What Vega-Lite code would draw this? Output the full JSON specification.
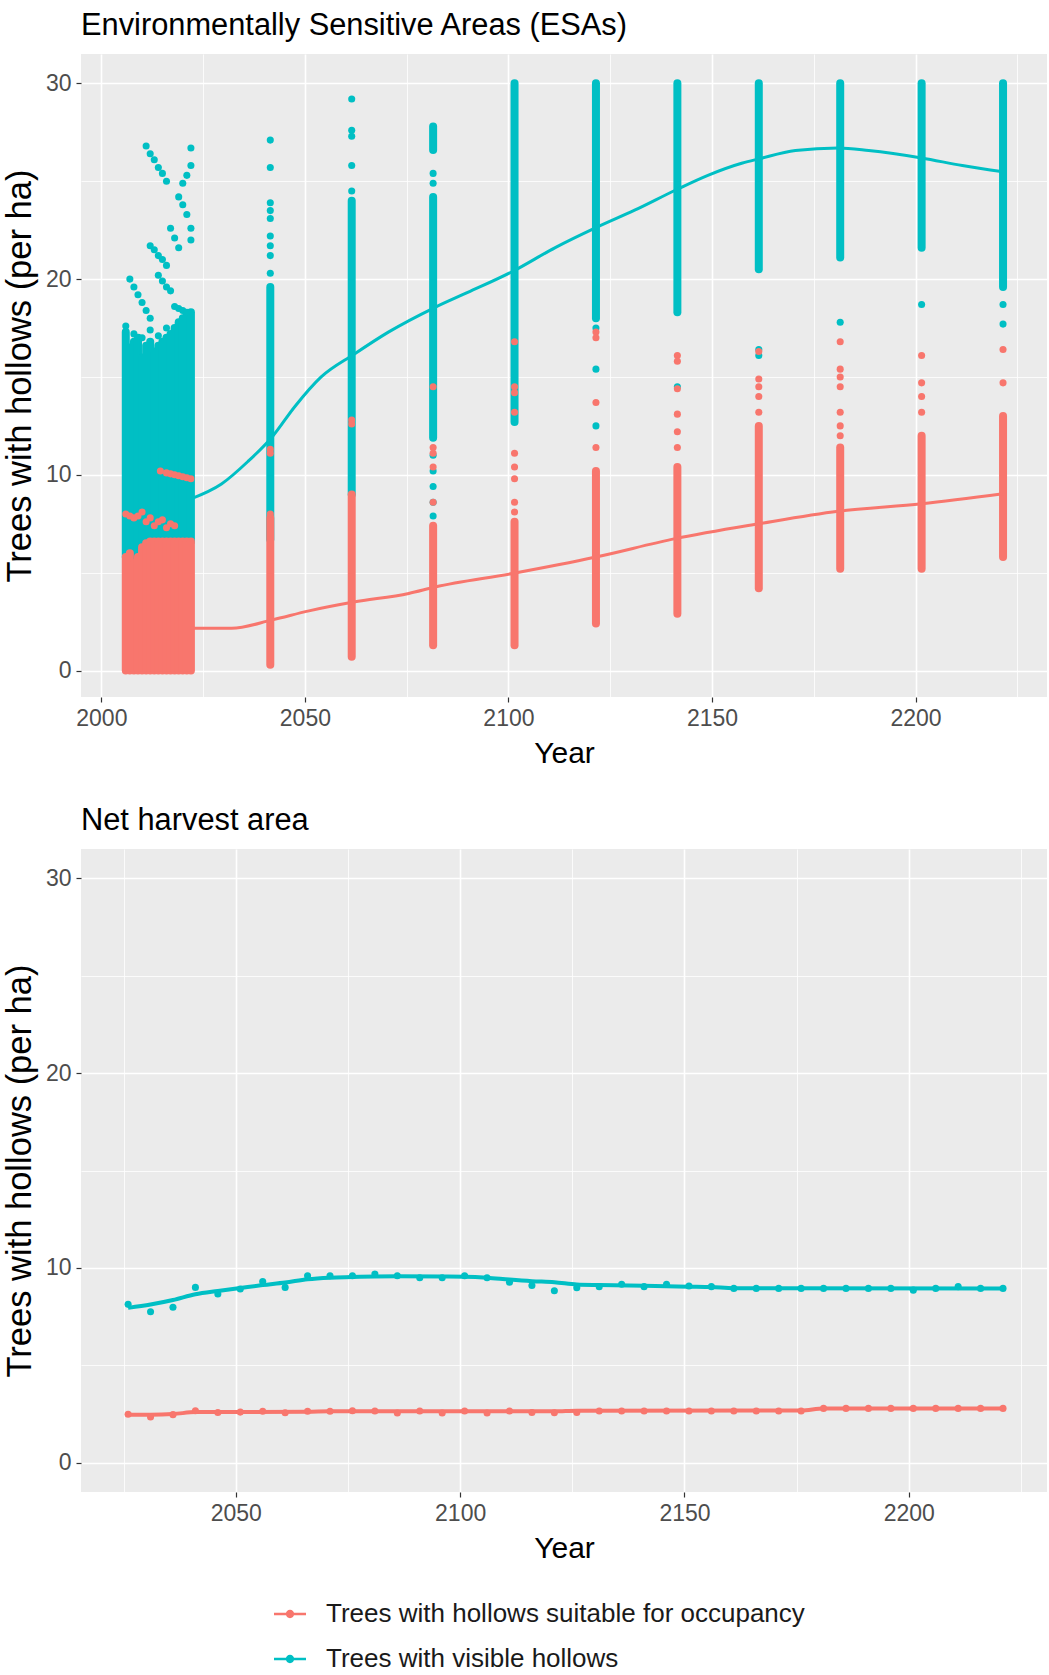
{
  "$schema": "https://vega.github.io/schema/vega-lite/v6.json",
  "padding": {"left": 2, "top": 10, "right": 0, "bottom": 0},
  "background": "white",
  "config": {
    "view": {"fill": "#EBEBEB", "stroke": null},
    "font": "Liberation Sans",
    "axis": {"domain": false, "grid": true, "gridColor": "#FFFFFF", "labelFont": "Liberation Sans", "labelFontSize": 23, "labelColor": "#4D4D4D", "tickColor": "#333333", "tickSize": 5, "tickWidth": 1.2, "titleFont": "Liberation Sans", "titleFontWeight": "normal", "titleColor": "#000000", "labelPadding": 5, "labelOverlap": false, "labelFlush": false, "labelBound": false},
    "axisX": {"titleFontSize": 30, "titlePadding": 8},
    "axisY": {"titleFontSize": 34.5, "titlePadding": 8},
    "title": {"font": "Liberation Sans", "fontSize": 30.8, "fontWeight": "normal", "color": "#000000", "anchor": "start", "frame": "group", "offset": 12}
  },
  "datasets": {
    "segs": [
      {"s":"vis","year":2006,"value":5.8,"hi":17.3},
      {"s":"vis","year":2007,"value":6.0,"hi":16.5},
      {"s":"vis","year":2008,"value":5.5,"hi":16.8},
      {"s":"vis","year":2009,"value":5.8,"hi":17.0},
      {"s":"vis","year":2010,"value":6.3,"hi":16.0},
      {"s":"vis","year":2011,"value":6.5,"hi":16.6},
      {"s":"vis","year":2012,"value":6.6,"hi":16.8},
      {"s":"vis","year":2013,"value":6.6,"hi":16.3},
      {"s":"vis","year":2014,"value":6.6,"hi":16.6},
      {"s":"vis","year":2015,"value":6.6,"hi":16.8},
      {"s":"vis","year":2016,"value":6.6,"hi":17.0},
      {"s":"vis","year":2017,"value":6.6,"hi":17.2},
      {"s":"vis","year":2018,"value":6.6,"hi":17.5},
      {"s":"vis","year":2019,"value":6.6,"hi":17.8},
      {"s":"vis","year":2020,"value":6.6,"hi":18.0},
      {"s":"vis","year":2021,"value":6.6,"hi":18.2},
      {"s":"vis","year":2022,"value":6.6,"hi":18.3},
      {"s":"vis","year":2041.5,"value":6.7,"hi":19.6},
      {"s":"vis","year":2061.5,"value":9.0,"hi":24.0},
      {"s":"vis","year":2081.5,"value":11.9,"hi":24.2},
      {"s":"vis","year":2081.5,"value":26.6,"hi":27.8},
      {"s":"vis","year":2101.5,"value":12.7,"hi":30},
      {"s":"vis","year":2121.5,"value":18.0,"hi":30},
      {"s":"vis","year":2141.5,"value":18.3,"hi":30},
      {"s":"vis","year":2161.5,"value":20.5,"hi":30},
      {"s":"vis","year":2181.5,"value":21.1,"hi":30},
      {"s":"vis","year":2201.5,"value":21.6,"hi":30},
      {"s":"vis","year":2221.5,"value":19.6,"hi":30},
      {"s":"occ","year":2006,"value":0,"hi":5.8},
      {"s":"occ","year":2007,"value":0,"hi":6.0},
      {"s":"occ","year":2008,"value":0,"hi":5.5},
      {"s":"occ","year":2009,"value":0,"hi":5.8},
      {"s":"occ","year":2010,"value":0,"hi":6.3},
      {"s":"occ","year":2011,"value":0,"hi":6.5},
      {"s":"occ","year":2012,"value":0,"hi":6.6},
      {"s":"occ","year":2013,"value":0,"hi":6.6},
      {"s":"occ","year":2014,"value":0,"hi":6.6},
      {"s":"occ","year":2015,"value":0,"hi":6.6},
      {"s":"occ","year":2016,"value":0,"hi":6.6},
      {"s":"occ","year":2017,"value":0,"hi":6.6},
      {"s":"occ","year":2018,"value":0,"hi":6.6},
      {"s":"occ","year":2019,"value":0,"hi":6.6},
      {"s":"occ","year":2020,"value":0,"hi":6.6},
      {"s":"occ","year":2021,"value":0,"hi":6.6},
      {"s":"occ","year":2022,"value":0,"hi":6.6},
      {"s":"occ","year":2041.5,"value":0.3,"hi":7.8},
      {"s":"occ","year":2061.5,"value":0.7,"hi":9.0},
      {"s":"occ","year":2081.5,"value":1.3,"hi":7.4},
      {"s":"occ","year":2101.5,"value":1.3,"hi":7.6},
      {"s":"occ","year":2121.5,"value":2.4,"hi":10.2},
      {"s":"occ","year":2141.5,"value":2.9,"hi":10.4},
      {"s":"occ","year":2161.5,"value":4.2,"hi":12.5},
      {"s":"occ","year":2181.5,"value":5.2,"hi":11.4},
      {"s":"occ","year":2201.5,"value":5.2,"hi":12.0},
      {"s":"occ","year":2221.5,"value":5.8,"hi":13.0}
    ],
    "pts": [
      {"s":"vis","year":2011,"value":26.8},{"s":"vis","year":2012,"value":26.4},{"s":"vis","year":2013,"value":26.1},{"s":"vis","year":2014,"value":25.7},{"s":"vis","year":2015,"value":25.4},{"s":"vis","year":2016,"value":25.0},
      {"s":"vis","year":2022,"value":26.7},{"s":"vis","year":2022,"value":25.8},{"s":"vis","year":2021,"value":25.3},{"s":"vis","year":2020,"value":24.9},
      {"s":"vis","year":2019,"value":24.2},{"s":"vis","year":2020,"value":23.8},{"s":"vis","year":2021,"value":23.3},
      {"s":"vis","year":2017,"value":22.6},{"s":"vis","year":2018,"value":22.1},{"s":"vis","year":2019,"value":21.6},
      {"s":"vis","year":2022,"value":22.6},{"s":"vis","year":2022,"value":22.0},
      {"s":"vis","year":2012,"value":21.7},{"s":"vis","year":2013,"value":21.5},{"s":"vis","year":2014,"value":21.2},{"s":"vis","year":2015,"value":21.0},{"s":"vis","year":2016,"value":20.7},
      {"s":"vis","year":2014,"value":20.2},{"s":"vis","year":2015,"value":19.9},{"s":"vis","year":2016,"value":19.6},{"s":"vis","year":2017,"value":19.4},
      {"s":"vis","year":2007,"value":20.0},{"s":"vis","year":2008,"value":19.6},{"s":"vis","year":2009,"value":19.2},{"s":"vis","year":2010,"value":18.8},{"s":"vis","year":2011,"value":18.4},{"s":"vis","year":2012,"value":18.0},
      {"s":"vis","year":2018,"value":18.6},{"s":"vis","year":2019,"value":18.5},{"s":"vis","year":2020,"value":18.4},{"s":"vis","year":2021,"value":18.3},
      {"s":"vis","year":2006,"value":17.6},{"s":"vis","year":2008,"value":17.2},{"s":"vis","year":2010,"value":17.0},{"s":"vis","year":2012,"value":17.4},{"s":"vis","year":2014,"value":17.1},{"s":"vis","year":2016,"value":17.5},
      {"s":"vis","year":2041.5,"value":27.1},{"s":"vis","year":2041.5,"value":25.7},{"s":"vis","year":2041.5,"value":23.9},{"s":"vis","year":2041.5,"value":23.5},{"s":"vis","year":2041.5,"value":23.1},{"s":"vis","year":2041.5,"value":22.2},{"s":"vis","year":2041.5,"value":21.7},{"s":"vis","year":2041.5,"value":21.2},{"s":"vis","year":2041.5,"value":20.3},
      {"s":"vis","year":2061.5,"value":29.2},{"s":"vis","year":2061.5,"value":27.6},{"s":"vis","year":2061.5,"value":27.3},{"s":"vis","year":2061.5,"value":25.8},{"s":"vis","year":2061.5,"value":24.5},
      {"s":"vis","year":2081.5,"value":25.4},{"s":"vis","year":2081.5,"value":24.9},{"s":"vis","year":2081.5,"value":11.0},{"s":"vis","year":2081.5,"value":10.2},{"s":"vis","year":2081.5,"value":9.4},{"s":"vis","year":2081.5,"value":8.6},{"s":"vis","year":2081.5,"value":7.9},
      {"s":"vis","year":2121.5,"value":17.5},{"s":"vis","year":2121.5,"value":15.4},{"s":"vis","year":2121.5,"value":12.5},
      {"s":"vis","year":2141.5,"value":14.5},
      {"s":"vis","year":2161.5,"value":16.4},{"s":"vis","year":2161.5,"value":16.1},
      {"s":"vis","year":2181.5,"value":17.8},
      {"s":"vis","year":2201.5,"value":18.7},
      {"s":"vis","year":2221.5,"value":18.7},{"s":"vis","year":2221.5,"value":17.7},
      {"s":"occ","year":2006,"value":8.0},{"s":"occ","year":2007,"value":7.9},{"s":"occ","year":2008,"value":7.8},{"s":"occ","year":2009,"value":7.9},{"s":"occ","year":2010,"value":8.1},{"s":"occ","year":2011,"value":7.6},{"s":"occ","year":2012,"value":7.8},{"s":"occ","year":2013,"value":7.4},{"s":"occ","year":2014,"value":7.6},{"s":"occ","year":2015,"value":7.7},{"s":"occ","year":2016,"value":7.3},{"s":"occ","year":2017,"value":7.5},{"s":"occ","year":2018,"value":7.4},
      {"s":"occ","year":2014.5,"value":10.2},{"s":"occ","year":2016,"value":10.1},{"s":"occ","year":2017,"value":10.05},{"s":"occ","year":2018,"value":10.0},{"s":"occ","year":2019,"value":9.95},{"s":"occ","year":2020,"value":9.9},{"s":"occ","year":2021,"value":9.85},{"s":"occ","year":2022,"value":9.8},
      {"s":"occ","year":2041.5,"value":11.3},{"s":"occ","year":2041.5,"value":11.1},{"s":"occ","year":2041.5,"value":8.0},
      {"s":"occ","year":2061.5,"value":12.8},{"s":"occ","year":2061.5,"value":12.6},
      {"s":"occ","year":2081.5,"value":14.5},{"s":"occ","year":2081.5,"value":11.4},{"s":"occ","year":2081.5,"value":11.1},{"s":"occ","year":2081.5,"value":10.4},{"s":"occ","year":2081.5,"value":8.6},
      {"s":"occ","year":2101.5,"value":16.8},{"s":"occ","year":2101.5,"value":14.5},{"s":"occ","year":2101.5,"value":14.2},{"s":"occ","year":2101.5,"value":13.2},{"s":"occ","year":2101.5,"value":11.1},{"s":"occ","year":2101.5,"value":10.4},{"s":"occ","year":2101.5,"value":9.8},{"s":"occ","year":2101.5,"value":8.6},{"s":"occ","year":2101.5,"value":8.1},
      {"s":"occ","year":2121.5,"value":17.3},{"s":"occ","year":2121.5,"value":17.0},{"s":"occ","year":2121.5,"value":13.7},{"s":"occ","year":2121.5,"value":11.4},
      {"s":"occ","year":2141.5,"value":16.1},{"s":"occ","year":2141.5,"value":15.8},{"s":"occ","year":2141.5,"value":14.4},{"s":"occ","year":2141.5,"value":13.1},{"s":"occ","year":2141.5,"value":12.2},{"s":"occ","year":2141.5,"value":11.4},
      {"s":"occ","year":2161.5,"value":16.3},{"s":"occ","year":2161.5,"value":14.9},{"s":"occ","year":2161.5,"value":14.5},{"s":"occ","year":2161.5,"value":14.0},{"s":"occ","year":2161.5,"value":13.2},
      {"s":"occ","year":2181.5,"value":16.8},{"s":"occ","year":2181.5,"value":15.4},{"s":"occ","year":2181.5,"value":15.0},{"s":"occ","year":2181.5,"value":14.5},{"s":"occ","year":2181.5,"value":13.2},{"s":"occ","year":2181.5,"value":12.5},{"s":"occ","year":2181.5,"value":12.0},
      {"s":"occ","year":2201.5,"value":16.1},{"s":"occ","year":2201.5,"value":14.7},{"s":"occ","year":2201.5,"value":14.0},{"s":"occ","year":2201.5,"value":13.2},
      {"s":"occ","year":2221.5,"value":16.4},{"s":"occ","year":2221.5,"value":14.7}
    ],
    "smooth": [
      {"s":"vis","year":2022,"value":8.77},{"s":"vis","year":2029.5,"value":9.53},{"s":"vis","year":2036,"value":10.68},{"s":"vis","year":2042,"value":11.95},{"s":"vis","year":2047.5,"value":13.48},{"s":"vis","year":2054,"value":15.0},{"s":"vis","year":2062,"value":16.15},{"s":"vis","year":2070.5,"value":17.29},{"s":"vis","year":2082,"value":18.56},{"s":"vis","year":2090,"value":19.32},{"s":"vis","year":2101,"value":20.39},{"s":"vis","year":2111.5,"value":21.61},{"s":"vis","year":2121.5,"value":22.63},{"s":"vis","year":2131,"value":23.52},{"s":"vis","year":2141,"value":24.54},{"s":"vis","year":2149,"value":25.3},{"s":"vis","year":2157.5,"value":25.93},{"s":"vis","year":2161.5,"value":26.14},{"s":"vis","year":2170.5,"value":26.57},{"s":"vis","year":2181,"value":26.7},{"s":"vis","year":2188.5,"value":26.57},{"s":"vis","year":2201.5,"value":26.19},{"s":"vis","year":2211.5,"value":25.8},{"s":"vis","year":2221.5,"value":25.48},
      {"s":"occ","year":2022,"value":2.16},{"s":"occ","year":2032,"value":2.16},{"s":"occ","year":2042,"value":2.59},{"s":"occ","year":2051,"value":3.05},{"s":"occ","year":2062,"value":3.5},{"s":"occ","year":2075.5,"value":3.94},{"s":"occ","year":2082,"value":4.27},{"s":"occ","year":2101,"value":4.96},{"s":"occ","year":2121.5,"value":5.8},{"s":"occ","year":2141,"value":6.74},{"s":"occ","year":2161.5,"value":7.5},{"s":"occ","year":2181,"value":8.14},{"s":"occ","year":2201.5,"value":8.52},{"s":"occ","year":2221.5,"value":9.03}
    ],
    "nha": [
      {"s":"vis","year":2026,"value":8.13},{"s":"vis","year":2031,"value":7.75},{"s":"vis","year":2036,"value":7.98},{"s":"vis","year":2041,"value":9.0},{"s":"vis","year":2046,"value":8.66},{"s":"vis","year":2051,"value":8.92},{"s":"vis","year":2056,"value":9.3},{"s":"vis","year":2061,"value":9.0},{"s":"vis","year":2066,"value":9.6},{"s":"vis","year":2071,"value":9.6},{"s":"vis","year":2076,"value":9.6},{"s":"vis","year":2081,"value":9.69},{"s":"vis","year":2086,"value":9.6},{"s":"vis","year":2091,"value":9.5},{"s":"vis","year":2096,"value":9.5},{"s":"vis","year":2101,"value":9.6},{"s":"vis","year":2106,"value":9.5},{"s":"vis","year":2111,"value":9.27},{"s":"vis","year":2116,"value":9.1},{"s":"vis","year":2121,"value":8.83},{"s":"vis","year":2126,"value":8.98},{"s":"vis","year":2131,"value":9.04},{"s":"vis","year":2136,"value":9.16},{"s":"vis","year":2141,"value":9.04},{"s":"vis","year":2146,"value":9.16},{"s":"vis","year":2151,"value":9.07},{"s":"vis","year":2156,"value":9.04},{"s":"vis","year":2161,"value":8.95},{"s":"vis","year":2166,"value":8.95},{"s":"vis","year":2171,"value":8.95},{"s":"vis","year":2176,"value":8.95},{"s":"vis","year":2181,"value":8.95},{"s":"vis","year":2186,"value":8.95},{"s":"vis","year":2191,"value":8.95},{"s":"vis","year":2196,"value":8.95},{"s":"vis","year":2201,"value":8.86},{"s":"vis","year":2206,"value":8.95},{"s":"vis","year":2211,"value":9.04},{"s":"vis","year":2216,"value":8.95},{"s":"vis","year":2221,"value":8.95},
      {"s":"occ","year":2026,"value":2.49},{"s":"occ","year":2031,"value":2.35},{"s":"occ","year":2036,"value":2.47},{"s":"occ","year":2041,"value":2.67},{"s":"occ","year":2046,"value":2.58},{"s":"occ","year":2051,"value":2.6},{"s":"occ","year":2056,"value":2.64},{"s":"occ","year":2061,"value":2.57},{"s":"occ","year":2066,"value":2.64},{"s":"occ","year":2071,"value":2.64},{"s":"occ","year":2076,"value":2.67},{"s":"occ","year":2081,"value":2.66},{"s":"occ","year":2086,"value":2.55},{"s":"occ","year":2091,"value":2.66},{"s":"occ","year":2096,"value":2.55},{"s":"occ","year":2101,"value":2.66},{"s":"occ","year":2106,"value":2.55},{"s":"occ","year":2111,"value":2.66},{"s":"occ","year":2116,"value":2.58},{"s":"occ","year":2121,"value":2.57},{"s":"occ","year":2126,"value":2.58},{"s":"occ","year":2131,"value":2.66},{"s":"occ","year":2136,"value":2.66},{"s":"occ","year":2141,"value":2.66},{"s":"occ","year":2146,"value":2.66},{"s":"occ","year":2151,"value":2.66},{"s":"occ","year":2156,"value":2.66},{"s":"occ","year":2161,"value":2.66},{"s":"occ","year":2166,"value":2.66},{"s":"occ","year":2171,"value":2.66},{"s":"occ","year":2176,"value":2.66},{"s":"occ","year":2181,"value":2.79},{"s":"occ","year":2186,"value":2.79},{"s":"occ","year":2191,"value":2.79},{"s":"occ","year":2196,"value":2.79},{"s":"occ","year":2201,"value":2.79},{"s":"occ","year":2206,"value":2.79},{"s":"occ","year":2211,"value":2.79},{"s":"occ","year":2216,"value":2.79},{"s":"occ","year":2221,"value":2.79}
    ],
    "nhaLine": [
      {"s":"vis","year":2026,"value":7.95},{"s":"vis","year":2031,"value":8.12},{"s":"vis","year":2036,"value":8.35},{"s":"vis","year":2041,"value":8.65},{"s":"vis","year":2046,"value":8.82},{"s":"vis","year":2051,"value":8.97},{"s":"vis","year":2056,"value":9.12},{"s":"vis","year":2061,"value":9.25},{"s":"vis","year":2066,"value":9.42},{"s":"vis","year":2071,"value":9.5},{"s":"vis","year":2076,"value":9.53},{"s":"vis","year":2081,"value":9.56},{"s":"vis","year":2086,"value":9.57},{"s":"vis","year":2096,"value":9.56},{"s":"vis","year":2101,"value":9.55},{"s":"vis","year":2106,"value":9.5},{"s":"vis","year":2111,"value":9.4},{"s":"vis","year":2116,"value":9.32},{"s":"vis","year":2121,"value":9.27},{"s":"vis","year":2126,"value":9.15},{"s":"vis","year":2131,"value":9.12},{"s":"vis","year":2141,"value":9.08},{"s":"vis","year":2151,"value":9.04},{"s":"vis","year":2156,"value":9.02},{"s":"vis","year":2161,"value":8.96},{"s":"vis","year":2221,"value":8.95},
      {"s":"occ","year":2026,"value":2.47},{"s":"occ","year":2031,"value":2.47},{"s":"occ","year":2036,"value":2.5},{"s":"occ","year":2041,"value":2.6},{"s":"occ","year":2066,"value":2.62},{"s":"occ","year":2071,"value":2.64},{"s":"occ","year":2121,"value":2.64},{"s":"occ","year":2126,"value":2.67},{"s":"occ","year":2176,"value":2.68},{"s":"occ","year":2181,"value":2.78},{"s":"occ","year":2221,"value":2.79}
    ]
  },
  "resolve": {"scale": {"color": "shared", "stroke": "shared"}, "legend": {"color": "independent"}},
  "spacing": 37,
  "vconcat": [
    {
      "title": "Environmentally Sensitive Areas (ESAs)",
      "width": 966,
      "height": 643,
      "encoding": {
        "x": {"field": "year", "type": "quantitative", "scale": {"domain": [1995, 2232.3], "nice": false, "zero": false},
          "axis": {"title": "Year", "values": [2000, 2025, 2050, 2075, 2100, 2125, 2150, 2175, 2200, 2225], "format": "d",
            "labelExpr": "datum.value % 50 === 0 ? datum.label : ''",
            "gridWidth": {"condition": {"test": "datum.value % 50 === 0", "value": 1.6}, "value": 0.8},
            "tickOpacity": {"condition": {"test": "datum.value % 50 === 0", "value": 1}, "value": 0}}},
        "y": {"field": "value", "type": "quantitative", "scale": {"domain": [-1.35, 31.5], "nice": false, "zero": false},
          "axis": {"title": "Trees with hollows (per ha)", "values": [0, 5, 10, 15, 20, 25, 30],
            "labelExpr": "datum.value % 10 === 0 ? datum.label : ''",
            "gridWidth": {"condition": {"test": "datum.value % 10 === 0", "value": 1.6}, "value": 0.8},
            "tickOpacity": {"condition": {"test": "datum.value % 10 === 0", "value": 1}, "value": 0}}}
      },
      "layer": [
        {"data": {"name": "segs"}, "mark": {"type": "rule", "strokeWidth": 8, "strokeCap": "round"},
          "encoding": {"y2": {"field": "hi"}, "stroke": {"field": "s", "type": "nominal", "scale": {"domain": ["occ", "vis"], "range": ["#F8766D", "#00BFC4"]}, "legend": null}}},
        {"data": {"name": "pts"}, "mark": {"type": "circle", "size": 50, "opacity": 1},
          "encoding": {"color": {"field": "s", "type": "nominal", "scale": {"domain": ["occ", "vis"], "range": ["#F8766D", "#00BFC4"]}, "legend": null}}},
        {"data": {"name": "smooth"}, "mark": {"type": "line", "strokeWidth": 3, "interpolate": "monotone"},
          "encoding": {"stroke": {"field": "s", "type": "nominal", "scale": {"domain": ["occ", "vis"], "range": ["#F8766D", "#00BFC4"]}, "legend": null}}}
      ]
    },
    {
      "title": "Net harvest area",
      "width": 966,
      "height": 643,
      "encoding": {
        "x": {"field": "year", "type": "quantitative", "scale": {"domain": [2015.5, 2230.8], "nice": false, "zero": false},
          "axis": {"title": "Year", "values": [2025, 2050, 2075, 2100, 2125, 2150, 2175, 2200, 2225], "format": "d",
            "labelExpr": "datum.value % 50 === 0 ? datum.label : ''",
            "gridWidth": {"condition": {"test": "datum.value % 50 === 0", "value": 1.6}, "value": 0.8},
            "tickOpacity": {"condition": {"test": "datum.value % 50 === 0", "value": 1}, "value": 0}}},
        "y": {"field": "value", "type": "quantitative", "scale": {"domain": [-1.5, 31.5], "nice": false, "zero": false},
          "axis": {"title": "Trees with hollows (per ha)", "values": [0, 5, 10, 15, 20, 25, 30],
            "labelExpr": "datum.value % 10 === 0 ? datum.label : ''",
            "gridWidth": {"condition": {"test": "datum.value % 10 === 0", "value": 1.6}, "value": 0.8},
            "tickOpacity": {"condition": {"test": "datum.value % 10 === 0", "value": 1}, "value": 0}}}
      },
      "layer": [
        {"data": {"name": "nhaLine"}, "mark": {"type": "line", "strokeWidth": 4, "interpolate": "monotone"},
          "encoding": {"stroke": {"field": "s", "type": "nominal", "scale": {"domain": ["occ", "vis"], "range": ["#F8766D", "#00BFC4"]}, "legend": null}}},
        {"data": {"name": "nha"}, "mark": {"type": "circle", "size": 50, "opacity": 1},
          "encoding": {"color": {"field": "s", "type": "nominal", "scale": {"domain": ["occ", "vis"], "range": ["#F8766D", "#00BFC4"]},
            "legend": {"title": null, "orient": "none", "legendX": 193, "legendY": 749, "direction": "vertical",
              "symbolType": "M-1,-0.08L1,-0.08L1,0.08L-1,0.08Z M-0.26,0A0.26,0.26 0 1,1 0.26,0A0.26,0.26 0 1,1 -0.26,0Z",
              "symbolSize": 1024, "symbolStrokeWidth": 0, "symbolOpacity": 1, "labelFontSize": 26, "labelColor": "#1A1A1A", "labelFont": "Liberation Sans",
              "rowPadding": 16, "labelOffset": 20, "labelLimit": 0, "padding": 0,
              "labelExpr": "datum.label == 'occ' ? 'Trees with hollows suitable for occupancy' : 'Trees with visible hollows'"}}}}
      ]
    }
  ]
}
